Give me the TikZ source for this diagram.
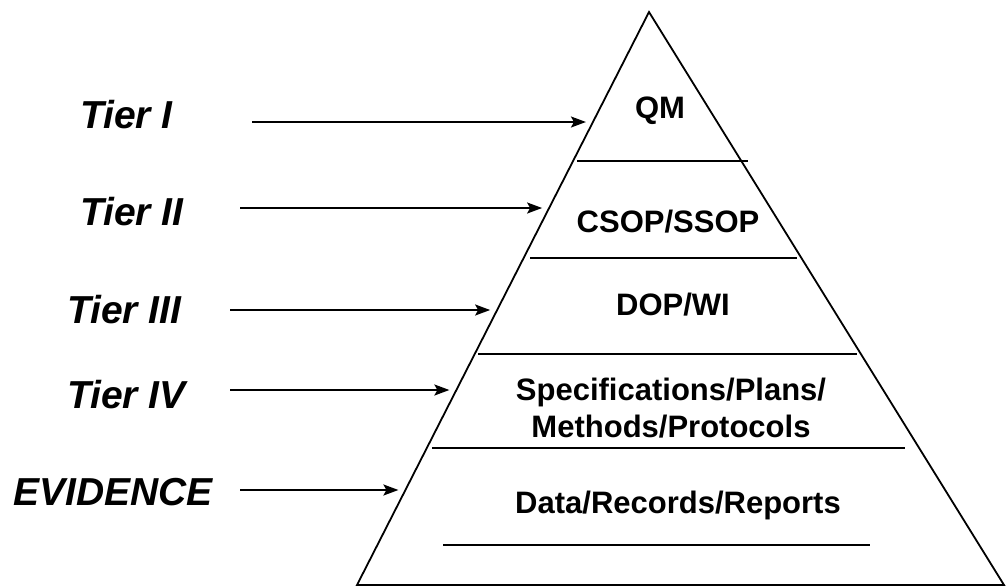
\documentclass[tikz,border=0pt]{standalone}
\usepackage{fontspec}
\setmainfont{Liberation Sans}
\usetikzlibrary{arrows.meta,calc}

\begin{document}
\begin{tikzpicture}[
    x=1pt,y=-1pt,
    tier/.style={anchor=base west,inner sep=0pt,font=\fontsize{39}{39}\selectfont\bfseries\itshape},
    layer/.style={anchor=base,inner sep=0pt,align=center,font=\fontsize{31}{37}\selectfont\bfseries},
    rim/.style={line width=1.8pt,line join=miter},
    arrow/.style={-{Stealth[length=15pt,width=11pt,inset=3pt]},line width=1.8pt,shorten >=7pt}
  ]
    \useasboundingbox (0,0) rectangle (1006,587);

    % pyramid
    \coordinate (apex) at (649,12);
    \coordinate (bl) at (357,585);
    \coordinate (br) at (1004,585);
    \draw[rim] (apex) -- (bl) -- (br) -- cycle;
    \foreach \y/\xa/\xb in {161/577/748,258/530/797,354/478/857,448/432/905,545/443/870}
      \draw[rim] (\xa,\y) -- (\xb,\y);

    \node[layer] (qm) at (660,118) {QM};
    \node[layer] (sop) at (668,232) {CSOP/SSOP};
    \node[layer] (dop) at (673,315) {DOP/WI};
    \node[layer] (spec) at (671,437) {Specifications/Plans/\\Methods/Protocols};
    \node[layer] (data) at (678,513) {Data/Records/Reports};

    % tiers
    \node[tier] (t1) at (80,128) {Tier I};
    \node[tier] (t2) at (80,225) {Tier II};
    \node[tier] (t3) at (67,323) {Tier III};
    \node[tier] (t4) at (67,408) {Tier IV};
    \node[tier] (ev) at (13,505) {EVIDENCE};

    \foreach \n/\y/\x in {t1/122/252,t2/208/240,t3/310/230,t4/390/230,ev/490/240}{
      \coordinate (s-\n) at (\x,\y);
      \coordinate (e-\n) at ($(apex)!{(\y-12)/573}!(bl)$);
      \draw[arrow] (s-\n) -- (e-\n);
    }
  \end{tikzpicture}
\end{document}
